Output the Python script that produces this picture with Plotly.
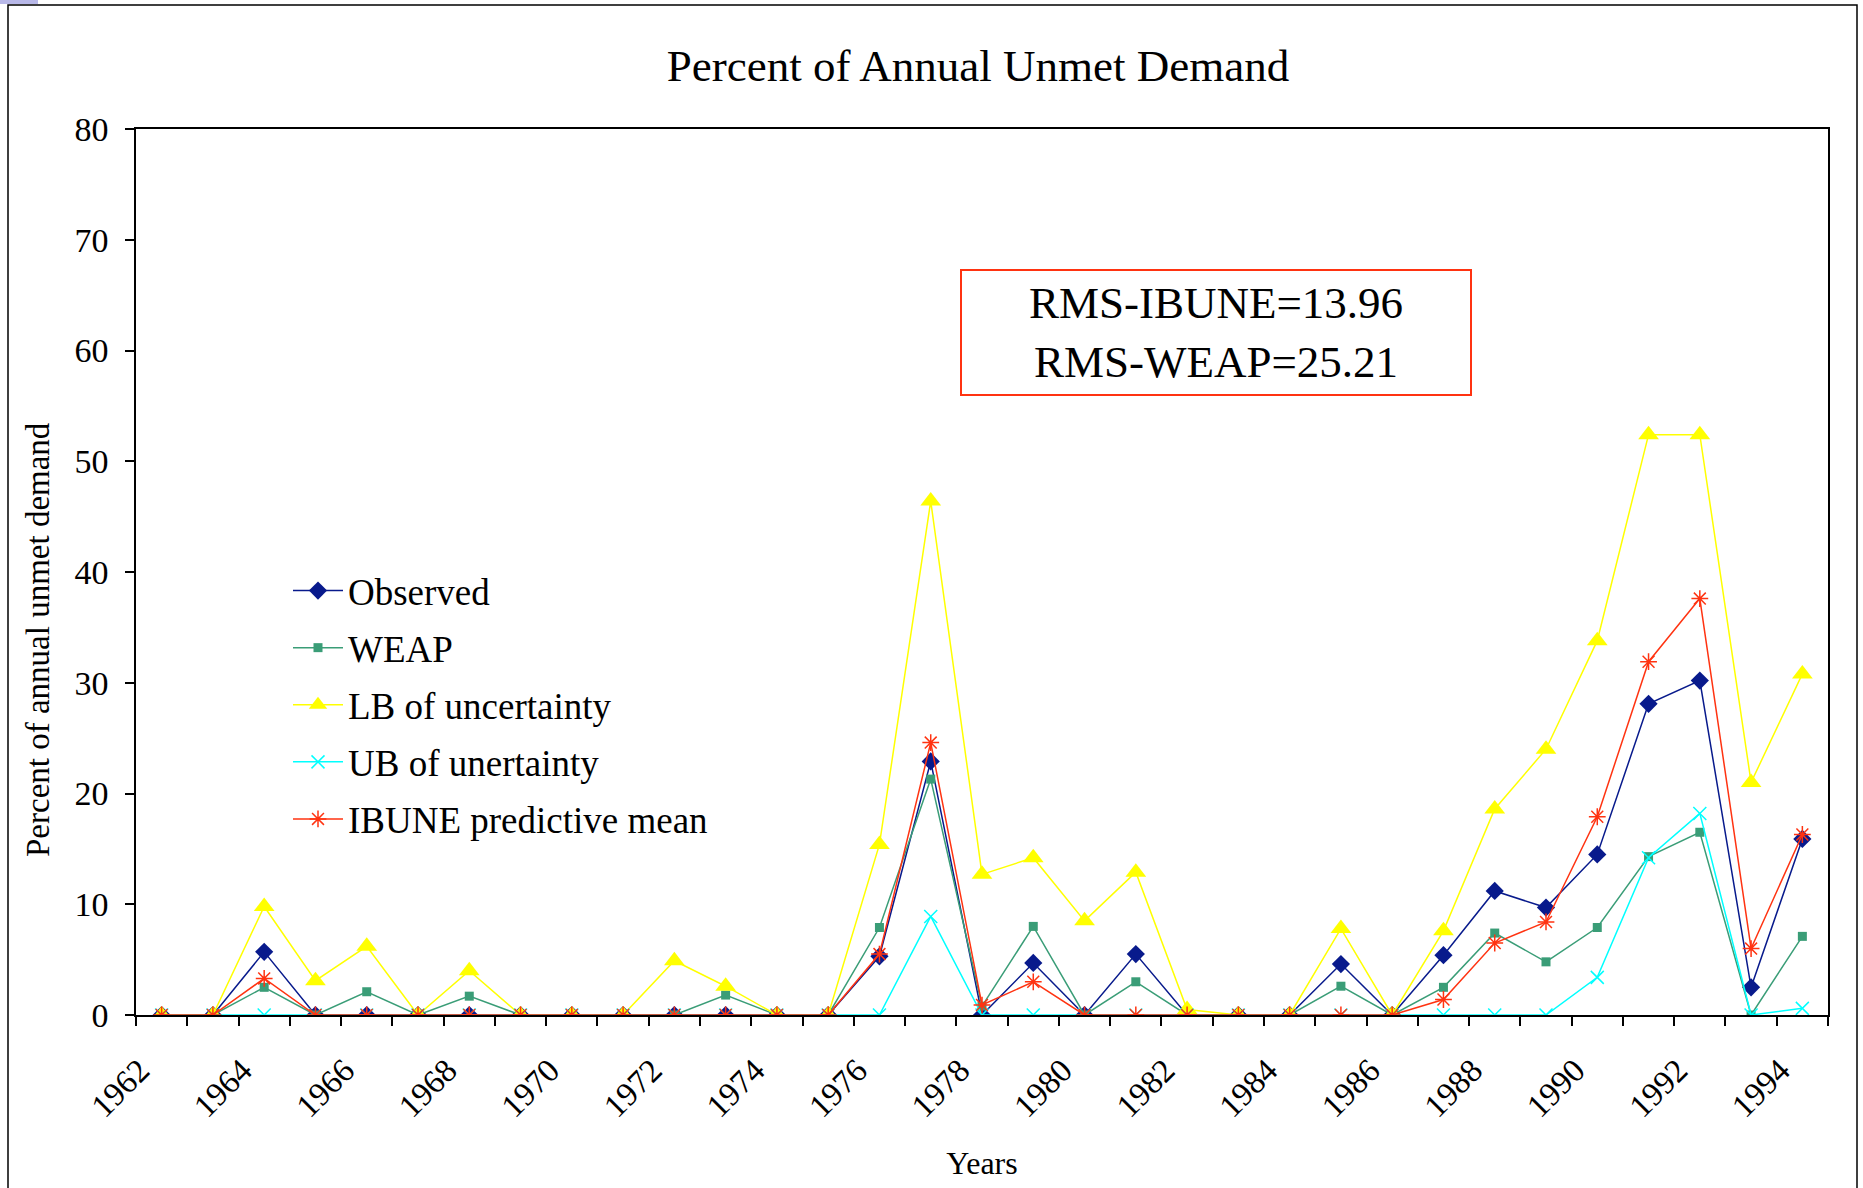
import plotly.graph_objects as go

years = list(range(1962, 1995))
observed = [0, 0, 5.7, 0, 0, 0, 0, 0, 0, 0, 0, 0, 0, 0, 5.3, 22.9, 0, 4.7, 0, 5.5,
            0, 0, 0, 4.6, 0, 5.4, 11.2, 9.7, 14.5, 28.1, 30.2, 2.5, 15.9]
weap = [0, 0, 2.5, 0, 2.1, 0, 1.7, 0, 0, 0, 0, 1.8, 0, 0, 7.9, 21.3, 0.8, 8.0, 0, 3.0,
        0, 0, 0, 2.6, 0, 2.5, 7.4, 4.8, 7.9, 14.3, 16.5, 0, 7.1]
lb = [0, 0, 9.8, 3.1, 6.2, 0, 4.0, 0, 0, 0, 4.9, 2.6, 0, 0, 15.4, 46.4, 12.7, 14.2, 8.5, 12.9,
      0.5, 0, 0, 7.8, 0, 7.6, 18.6, 24.0, 33.8, 52.4, 52.4, 21.0, 30.8]
ub = [0, 0, 0, 0, 0, 0, 0, 0, 0, 0, 0, 0, 0, 0, 0, 8.9, 0, 0, 0, 0,
      0, 0, 0, 0, 0, 0, 0, 0, 3.4, 14.2, 18.2, 0, 0.6]
ibune = [0, 0, 3.3, 0, 0, 0, 0, 0, 0, 0, 0, 0, 0, 0, 5.5, 24.6, 0.9, 3.0, 0, 0,
         0, 0, 0, 0, 0, 1.4, 6.5, 8.4, 17.9, 31.9, 37.6, 6.0, 16.3]
tick_years = list(range(1962, 1995, 2))
tick_text = [str(y) for y in tick_years]

FONT = "Liberation Serif"
W, H = 1863, 1188
L, R, T, B = 136, 35, 129, 173
pw, ph = W - L - R, H - T - B


def px(x):
    return (x - L) / pw


def py(y):
    return (H - B - y) / ph


fig = go.Figure()
series = [
    ("Observed", observed, "#081A8C", dict(symbol="diamond", size=14, color="#081A8C")),
    ("WEAP", weap, "#3A9D77", dict(symbol="square", size=9, color="#3A9D77")),
    ("LB of uncertainty", lb, "#FFFF00", dict(symbol="triangle-up", size=18, color="#FFFF00")),
    ("UB of unertainty", ub, "#00FFFF", dict(symbol="x-thin-open", size=13, color="#00FFFF",
                                             line=dict(color="#00FFFF", width=1.5))),
    ("IBUNE predictive mean", ibune, "#FF3311", dict(symbol="asterisk-open", size=14, color="#FF3311",
                                                     line=dict(color="#FF3311", width=1.5))),
]
for i, (name, vals, col, mk) in enumerate(series):
    fig.add_trace(go.Scatter(x=years, y=vals, name=name, mode="lines+markers",
                             line=dict(color=col, width=1.5), marker=mk,
                             legendgroup=f"g{i}"))

fig.update_layout(
    width=W, height=H,
    margin=dict(l=L, r=R, t=T, b=B, autoexpand=False),
    paper_bgcolor="white", plot_bgcolor="white",
    font=dict(family=FONT, color="black"),
    title=dict(text="Percent of Annual Unmet Demand", font=dict(family=FONT, size=45, color="black"),
               x=px(978), xanchor="center", xref="paper", y=1 - 65 / H, yanchor="middle", yref="container"),
    showlegend=True,
    legend=dict(x=px(288), y=py(560), xanchor="left", yanchor="top",
                font=dict(family=FONT, size=37, color="black"),
                bgcolor="rgba(0,0,0,0)", tracegroupgap=6, itemwidth=50, traceorder="grouped"),
    xaxis=dict(range=[1961.5, 1994.5], tickmode="array", tickvals=tick_years, ticktext=tick_text,
               tickangle=-45, ticks="", showline=True, linecolor="black", linewidth=1.5, mirror=True,
               showgrid=False, zeroline=False, tickfont=dict(family=FONT, size=33, color="black"),
               ticklabelstandoff=21, ticklabelshift=-22,
               minor=dict(tickmode="array", tickvals=[y - 0.5 for y in years] + [1994.5],
                          ticks="outside", ticklen=9, tickcolor="black", tickwidth=1.5, showgrid=False),
               title=dict(text="Years", font=dict(family=FONT, size=32, color="black"), standoff=28)),
    yaxis=dict(range=[0, 80], dtick=10, tick0=0, ticks="outside", ticklen=9, tickcolor="black",
               tickwidth=1.5, showline=True, linecolor="black", linewidth=1.5, mirror=True,
               showgrid=False, zeroline=False, tickfont=dict(family=FONT, size=34, color="black"),
               ticklabelstandoff=10),
    shapes=[
        dict(type="rect", xref="paper", yref="paper", x0=px(8), x1=px(1857), y0=py(1200), y1=py(5),
             line=dict(color="black", width=1.5), fillcolor="rgba(0,0,0,0)", layer="below"),
        dict(type="rect", xref="paper", yref="paper", x0=px(0), x1=px(38), y0=py(4), y1=py(0),
             line=dict(width=0), fillcolor="#B8B8E8", layer="below"),
    ],
    annotations=[
        dict(text="Percent of annual unmet demand", textangle=-90, xref="paper", yref="paper",
             x=px(38), y=py(640), xanchor="center", yanchor="middle", showarrow=False,
             font=dict(family=FONT, size=33, color="black")),
        dict(text="RMS-IBUNE=13.96<br>RMS-WEAP=25.21", xref="paper", yref="paper",
             x=px(1216), y=py(332), xanchor="center", yanchor="middle", showarrow=False,
             font=dict(family=FONT, size=45, color="black"), bordercolor="#FF3311", borderwidth=2,
             borderpad=4, bgcolor="white", width=500, height=115),
    ],
)

fig.write_html("out.html", config={"displayModeBar": False},
               post_script="document.body.style.margin='0';document.body.style.overflow='hidden';")
